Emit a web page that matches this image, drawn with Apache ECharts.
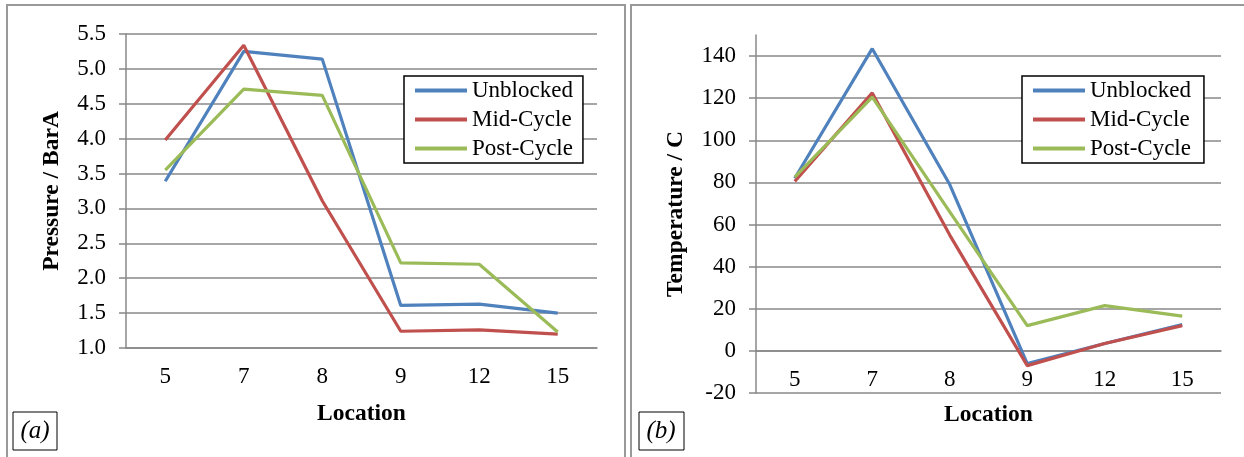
<!DOCTYPE html>
<html>
<head>
<meta charset="utf-8">
<script src="https://cdn.jsdelivr.net/npm/echarts@6/dist/echarts.min.js"></script>
<style>
  html, body { margin: 0; padding: 0; background: #fff; }
  #chart { width: 1244px; height: 457px; }
</style>
</head>
<body>
<div id="chart"></div>
<script>
// locations along the line
const locations = ['5', '7', '8', '9', '12', '15'];
const seriesNames = ['Unblocked', 'Mid-Cycle', 'Post-Cycle'];
const colors = ['#4F81BD', '#C0504D', '#9BBB59'];

// (a) pressure, BarA
const pressureUnblocked = [3.39, 5.25, 5.14, 1.61, 1.63, 1.5];
const pressureMid = [3.98, 5.34, 3.11, 1.24, 1.26, 1.2];
const pressurePost = [3.55, 4.71, 4.62, 2.22, 2.2, 1.23];

// (b) temperature, C
const tempUnblocked = [82, 143.5, 79, -6, 3.5, 12.5];
const tempMid = [80.5, 122.5, 55, -7, 3.5, 12];
const tempPost = [82.5, 120.5, 66, 12, 21.5, 16.5];

const font = '"Liberation Serif", "Times New Roman", serif';
const grey = '#888';

const chart = echarts.init(document.getElementById('chart'));

// category axis; offset lifts panel (b)'s axis up to the zero line
const xAxisBase = (gridIndex, nameGap, offset) => ({
  type: 'category',
  gridIndex: gridIndex,
  data: locations,
  offset: offset,
  name: 'Location',
  nameLocation: 'middle',
  nameGap: nameGap,
  nameTextStyle: { fontFamily: font, fontSize: 23.5, fontWeight: 'bold', color: '#000' },
  axisLine: { onZero: false, lineStyle: { color: grey, width: 1.5 } },
  axisTick: { length: 6, lineStyle: { color: grey, width: 1.5 } },
  axisLabel: { fontFamily: font, fontSize: 23, color: '#000', margin: 17 }
});

const legendBase = (left, padRight) => ({
  left: left,
  top: 76,
  orient: 'vertical',
  data: seriesNames,
  icon: 'rect',
  itemWidth: 52,
  itemHeight: 4,
  itemGap: 6,
  padding: [3, padRight, 3, 11],
  borderColor: '#000',
  borderWidth: 1.5,
  backgroundColor: '#fff',
  textStyle: { fontFamily: font, fontSize: 23, color: '#000', lineHeight: 22 }
});

const lineSeries = (name, i, data, axisIndex) => ({
  name: name,
  type: 'line',
  xAxisIndex: axisIndex,
  yAxisIndex: axisIndex,
  data: data,
  symbol: 'none',
  lineStyle: { color: colors[i], width: 3.2 },
  itemStyle: { color: colors[i] }
});

const yName = { fontFamily: font, fontSize: 23.5, fontWeight: 'bold', color: '#000' };

const option = {
  animation: false,
  grid: [
    { left: 126, top: 34, width: 471, height: 314 },
    { left: 756, top: 35, width: 465, height: 358 }
  ],
  legend: [legendBase(404, 10), legendBase(1022, 13)],
  xAxis: [xAxisBase(0, 54, 0), xAxisBase(1, 52, -42)],
  yAxis: [
    {
      type: 'value',
      gridIndex: 0,
      min: 1, max: 5.5, interval: 0.5,
      name: 'Pressure / BarA',
      nameLocation: 'middle',
      nameGap: 62,
      nameTextStyle: yName,
      axisLine: { show: true, lineStyle: { color: grey, width: 1.5 } },
      axisTick: { show: true, length: 7, lineStyle: { color: grey, width: 1.5 } },
      axisLabel: { fontFamily: font, fontSize: 23, color: '#000', margin: 20,
        formatter: v => v.toFixed(1) },
      splitLine: { lineStyle: { color: grey, width: 1.5 } }
    },
    {
      type: 'value',
      gridIndex: 1,
      min: -20, max: 150, interval: 20,
      name: 'Temperature / C',
      nameLocation: 'middle',
      nameGap: 68,
      nameTextStyle: yName,
      axisLine: { show: true, lineStyle: { color: grey, width: 1.5 } },
      axisTick: { show: true, length: 7, lineStyle: { color: grey, width: 1.5 } },
      axisLabel: { fontFamily: font, fontSize: 23, color: '#000', margin: 20, showMaxLabel: false },
      splitLine: { showMaxLine: false, lineStyle: { color: grey, width: 1.5 } }
    }
  ],
  series: [
    lineSeries('Unblocked', 0, pressureUnblocked, 0),
    lineSeries('Mid-Cycle', 1, pressureMid, 0),
    lineSeries('Post-Cycle', 2, pressurePost, 0),
    lineSeries('Unblocked', 0, tempUnblocked, 1),
    lineSeries('Mid-Cycle', 1, tempMid, 1),
    lineSeries('Post-Cycle', 2, tempPost, 1)
  ],
  graphic: [
    // panel frames
    { type: 'rect', shape: { x: 7, y: 5, width: 618, height: 470 },
      style: { fill: null, stroke: '#999', lineWidth: 2 }, silent: true },
    { type: 'rect', shape: { x: 631, y: 5, width: 640, height: 470 },
      style: { fill: null, stroke: '#999', lineWidth: 2 }, silent: true },
    // panel tags
    { type: 'rect', shape: { x: 13, y: 412, width: 44, height: 38 },
      style: { fill: '#fff', stroke: '#000', lineWidth: 1 } },
    { type: 'text', x: 35, y: 431,
      style: { text: '(a)', font: 'italic 25px ' + font, fill: '#000', align: 'center', verticalAlign: 'middle' } },
    { type: 'rect', shape: { x: 639, y: 412, width: 45, height: 38 },
      style: { fill: '#fff', stroke: '#000', lineWidth: 1 } },
    { type: 'text', x: 661, y: 431,
      style: { text: '(b)', font: 'italic 25px ' + font, fill: '#000', align: 'center', verticalAlign: 'middle' } }
  ]
};

chart.setOption(option);
</script>
</body>
</html>
